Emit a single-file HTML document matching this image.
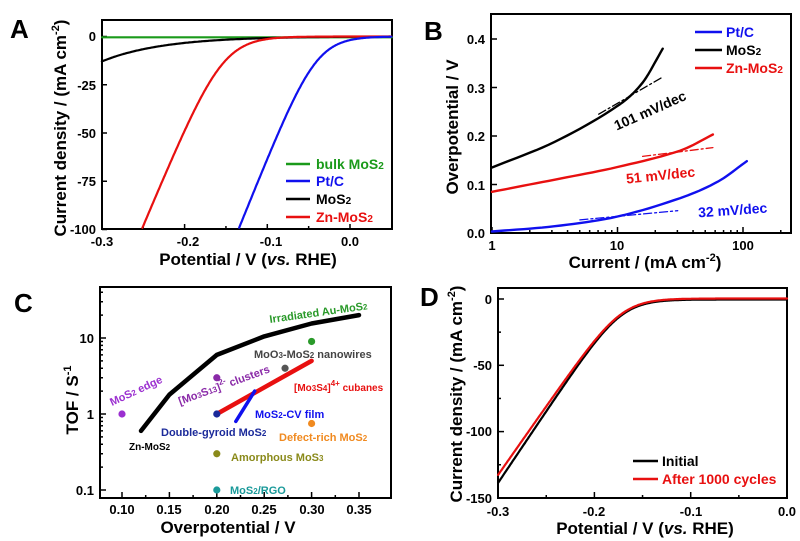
<!DOCTYPE html>
<html><head><meta charset="utf-8">
<style>
html,body{margin:0;padding:0;background:#fff;}
svg{display:block;font-family:"Liberation Sans",Arial,sans-serif;font-weight:bold;}
</style></head>
<body>
<svg id="s" width="800" height="541" viewBox="0 0 800 541" xmlns="http://www.w3.org/2000/svg">
<rect width="800" height="541" fill="#fff"/>
<text x="10" y="38" font-size="26" fill="#000">A</text>
<text x="424" y="40" font-size="26" fill="#000">B</text>
<text x="14" y="312" font-size="26" fill="#000">C</text>
<text x="420" y="306" font-size="26" fill="#000">D</text>

<g id="A">
<rect x="102" y="20" width="290" height="209" fill="none" stroke="#000" stroke-width="2"/>
<g font-size="13" fill="#000" text-anchor="end">
<text x="96" y="41">0</text><text x="96" y="90">-25</text><text x="96" y="138">-50</text><text x="96" y="186">-75</text><text x="96" y="234">-100</text>
</g>
<g font-size="13" fill="#000" text-anchor="middle">
<text x="102" y="246">-0.3</text><text x="188" y="246">-0.2</text><text x="271" y="246">-0.1</text><text x="350" y="246">0.0</text>
</g>
<text x="248" y="265" font-size="17" text-anchor="middle">Potential / V (<tspan font-style="italic">vs.</tspan> RHE)</text>
<text transform="translate(66,128) rotate(-90)" font-size="17" text-anchor="middle">Current density / (mA cm<tspan font-size="11" dy="-7">-2</tspan><tspan dy="7">)</tspan></text>
<g font-size="14">
<line x1="286" y1="164" x2="310" y2="164" stroke="#1a9a1a" stroke-width="2.5"/><text x="316" y="169" fill="#1a9a1a">bulk MoS<tspan font-size="10">2</tspan></text>
<line x1="286" y1="181" x2="310" y2="181" stroke="#1010ee" stroke-width="2.5"/><text x="316" y="186" fill="#1010ee">Pt/C</text>
<line x1="286" y1="199" x2="310" y2="199" stroke="#000" stroke-width="2.5"/><text x="316" y="204" fill="#000">MoS<tspan font-size="10">2</tspan></text>
<line x1="286" y1="217" x2="310" y2="217" stroke="#e81010" stroke-width="2.5"/><text x="316" y="222" fill="#e81010">Zn-MoS<tspan font-size="10">2</tspan></text>
</g>
</g>

<g id="B">
<rect x="491" y="14" width="300" height="219" fill="none" stroke="#000" stroke-width="2"/>
<g font-size="13" text-anchor="end">
<text x="485" y="238">0.0</text><text x="485" y="190">0.1</text><text x="485" y="141">0.2</text><text x="485" y="93">0.3</text><text x="485" y="44">0.4</text>
</g>
<g font-size="13" text-anchor="middle">
<text x="492" y="250">1</text><text x="617" y="250">10</text><text x="743" y="250">100</text>
</g>
<text x="645" y="268" font-size="17" text-anchor="middle">Current / (mA cm<tspan font-size="11" dy="-7">-2</tspan><tspan dy="7">)</tspan></text>
<text transform="translate(458,127) rotate(-90)" font-size="17" text-anchor="middle">Overpotential / V</text>
<g font-size="14">
<line x1="695" y1="32" x2="722" y2="32" stroke="#1010ee" stroke-width="2.5"/><text x="726" y="37" fill="#1010ee">Pt/C</text>
<line x1="695" y1="50" x2="722" y2="50" stroke="#000" stroke-width="2.5"/><text x="726" y="55" fill="#000">MoS<tspan font-size="10">2</tspan></text>
<line x1="695" y1="68" x2="722" y2="68" stroke="#e81010" stroke-width="2.5"/><text x="726" y="73" fill="#e81010">Zn-MoS<tspan font-size="10">2</tspan></text>
</g>
<text transform="translate(652,115) rotate(-24)" font-size="14" text-anchor="middle">101 mV/dec</text>
<text transform="translate(661,180) rotate(-6)" font-size="14" text-anchor="middle" fill="#e81010">51 mV/dec</text>
<text transform="translate(733,215) rotate(-4)" font-size="14" text-anchor="middle" fill="#1010ee">32 mV/dec</text>
</g>

<g id="C">
<rect x="100" y="287" width="291" height="211" fill="none" stroke="#000" stroke-width="2"/>
<g font-size="13" text-anchor="end">
<text x="94" y="343">10</text><text x="94" y="419">1</text><text x="94" y="495">0.1</text>
</g>
<g font-size="13" text-anchor="middle">
<text x="122" y="514">0.10</text><text x="169" y="514">0.15</text><text x="217" y="514">0.20</text><text x="264" y="514">0.25</text><text x="312" y="514">0.30</text><text x="359" y="514">0.35</text>
</g>
<text x="228" y="533" font-size="17" text-anchor="middle">Overpotential / V</text>
<text transform="translate(78,400) rotate(-90)" font-size="17" text-anchor="middle">TOF / S<tspan font-size="11" dy="-7">-1</tspan></text>
</g>

<g id="D">
<rect x="498" y="288" width="289" height="210" fill="none" stroke="#000" stroke-width="2"/>
<g font-size="13" text-anchor="end">
<text x="492" y="304">0</text><text x="492" y="370">-50</text><text x="492" y="436">-100</text><text x="492" y="503">-150</text>
</g>
<g font-size="13" text-anchor="middle">
<text x="498" y="516">-0.3</text><text x="594" y="516">-0.2</text><text x="691" y="516">-0.1</text><text x="787" y="516">0.0</text>
</g>
<text x="645" y="534" font-size="17" text-anchor="middle">Potential / V (<tspan font-style="italic">vs.</tspan> RHE)</text>
<text transform="translate(462,394) rotate(-90)" font-size="17" text-anchor="middle">Current density / (mA cm<tspan font-size="11" dy="-7">-2</tspan><tspan dy="7">)</tspan></text>
<g font-size="14">
<line x1="633" y1="461" x2="658" y2="461" stroke="#000" stroke-width="2.5"/><text x="662" y="466">Initial</text>
<line x1="633" y1="479" x2="658" y2="479" stroke="#e81010" stroke-width="2.5"/><text x="662" y="484" fill="#e81010">After 1000 cycles</text>
</g>
</g>
<g id="dyn"></g>
</svg>
<script>
(function(){
var NS="http://www.w3.org/2000/svg",g=document.getElementById("dyn");
function el(t,a){var e=document.createElementNS(NS,t);for(var k in a)e.setAttribute(k,a[k]);g.appendChild(e);return e;}
function path(pts,c,w,extra){var d="M"+pts.map(function(p){return p[0].toFixed(1)+","+p[1].toFixed(1)}).join("L");var a={d:d,fill:"none",stroke:c,"stroke-width":w,"stroke-linejoin":"round","stroke-linecap":"round"};for(var k in extra)a[k]=extra[k];return el("path",a);}
function sp(x){return x>30?x:Math.log(1+Math.exp(x));}
function tick(x1,y1,x2,y2){el("line",{x1:x1,y1:y1,x2:x2,y2:y2,stroke:"#000","stroke-width":1.5});}
var ax=function(v){return 350+v*827;},ay=function(j){return 36.5-j*1.93;};
[-0.3,-0.2,-0.1,0].forEach(function(v){tick(ax(v),229,ax(v),224);});
[-0.25,-0.15,-0.05].forEach(function(v){tick(ax(v),229,ax(v),226);});
[0,-25,-50,-75,-100].forEach(function(j){tick(102,ay(j),107,ay(j));});
function lsv(xf,yf,k,V0,w,vmin,vmax,ymin){var p=[];for(var v=vmin;v<=vmax+1e-9;v+=0.001){var j=-k*w*sp((V0-v)/w);if(j<ymin)continue;p.push([xf(v),yf(j)]);}return p;}
path([[102,ay(-0.4)],[392,ay(-0.4)]],"#1a9a1a",2.2);
var pb=[];for(var v=-0.3;v<=0.05;v+=0.002){pb.push([ax(v),ay(-13*Math.exp(-(v+0.3)/0.075)+0.1)]);}
path(pb,"#000",2.2);
path(lsv(ax,ay,1020,-0.154,0.02,-0.3,0.05,-100),"#e81010",2.2);
path(lsv(ax,ay,1064,-0.041,0.018,-0.3,0.05,-100),"#1010ee",2.2);
var bx=function(l){return 492+l*125.5;},by=function(y){return 233-y*485;};
[0,1,2].forEach(function(l){tick(bx(l),233,bx(l),227);});
[0,1].forEach(function(d){for(var i=2;i<=9;i++){tick(bx(d+Math.log10(i)),233,bx(d+Math.log10(i)),230);}});
tick(bx(2.301),233,bx(2.301),230);
[0,0.1,0.2,0.3,0.4].forEach(function(y){tick(491,by(y),497,by(y));});
function interp(P){var out=[];for(var i=0;i<P.length-1;i++){for(var t=0;t<1;t+=0.1){var a=P[i],b=P[i+1];
var m0=i>0?(P[i+1][1]-P[i-1][1])/(P[i+1][0]-P[i-1][0]):(b[1]-a[1])/(b[0]-a[0]);
var m1=i<P.length-2?(P[i+2][1]-P[i][1])/(P[i+2][0]-P[i][0]):(b[1]-a[1])/(b[0]-a[0]);
var h=b[0]-a[0],t2=t*t,t3=t2*t;var y=(2*t3-3*t2+1)*a[1]+(t3-2*t2+t)*h*m0+(-2*t3+3*t2)*b[1]+(t3-t2)*h*m1;out.push([a[0]+h*t,y]);}}out.push(P[P.length-1]);return out;}
function bp(P,c){path(interp(P).map(function(p){return[bx(p[0]),by(p[1])];}),c,2.4);}
bp([[0,0.135],[0.5,0.188],[1,0.262],[1.2,0.31],[1.36,0.38]],"#000");
bp([[0,0.085],[0.5,0.11],[1,0.136],[1.5,0.17],[1.76,0.203]],"#e81010");
bp([[0,0.003],[0.5,0.014],[1,0.034],[1.5,0.072],[1.8,0.106],[2.03,0.148]],"#1010ee");
var dd={"stroke-dasharray":"8,3,2,3"};
path([[bx(0.85),by(0.245)],[bx(1.35),by(0.32)]],"#000",1.3,dd);
path([[bx(1.2),by(0.158)],[bx(1.76),by(0.176)]],"#e81010",1.3,dd);
path([[bx(0.7),by(0.027)],[bx(1.48),by(0.046)]],"#1010ee",1.3,dd);
var cx=function(v){return 122+(v-0.1)*948;},cy=function(t){return 414-Math.log10(t)*76;};
[0.1,0.15,0.2,0.25,0.3,0.35].forEach(function(v){tick(cx(v),498,cx(v),492);});
[0.125,0.175,0.225,0.275,0.325].forEach(function(v){tick(cx(v),498,cx(v),495);});
[0.1,1,10].forEach(function(t){tick(100,cy(t),106,cy(t));for(var i=2;i<=9;i++){var y=cy(t*i);if(y>287)tick(100,y,103,y);}});
path([[0.12,0.6],[0.15,1.8],[0.2,6],[0.25,10.5],[0.3,15.5],[0.35,20]].map(function(p){return[cx(p[0]),cy(p[1])];}),"#000",4.5);
path([[cx(0.2),cy(1)],[cx(0.3),cy(5)]],"#e81010",4.5);
path([[cx(0.22),cy(0.8)],[cx(0.24),cy(2)]],"#1010ee",3.5);
var dots=[[0.1,1,"#9b2fd0"],[0.2,3,"#8a2aa8"],[0.2,1,"#1b2a9a"],[0.272,4,"#555"],[0.3,9,"#2a9a2a"],[0.3,0.75,"#f08a20"],[0.2,0.3,"#8a8a1a"],[0.2,0.1,"#1a9a9a"]];
dots.forEach(function(d){el("circle",{cx:cx(d[0]),cy:cy(d[1]),r:3.6,fill:d[2]});});
function tx(x,y,s,c,rot,fs){var t=el("text",{x:0,y:0,fill:c,"font-size":fs||11,transform:"translate("+x+","+y+")"+(rot?" rotate("+rot+")":"")});t.innerHTML=s;}
tx(270,323,"Irradiated Au-MoS<tspan font-size='8'>2</tspan>","#2a9a2a",-8);
tx(254,358,"MoO<tspan font-size='8'>3</tspan>-MoS<tspan font-size='8'>2</tspan> nanowires","#444",0);
tx(294,391,"[Mo<tspan font-size='8'>3</tspan>S<tspan font-size='8'>4</tspan>]<tspan font-size='8' dy='-5'>4+</tspan><tspan dy='5'> cubanes</tspan>","#e81010",0,10);
tx(112,406,"MoS<tspan font-size='8'>2</tspan> edge","#9b2fd0",-25);
tx(180,405,"[Mo<tspan font-size='8'>3</tspan>S<tspan font-size='8'>13</tspan>]<tspan font-size='8' dy='-5'>2-</tspan><tspan dy='5'> clusters</tspan>","#8a2aa8",-20);
tx(255,418,"MoS<tspan font-size='8'>2</tspan>-CV film","#1010ee",0);
tx(161,436,"Double-gyroid MoS<tspan font-size='8'>2</tspan>","#1b2a9a",0);
tx(279,441,"Defect-rich MoS<tspan font-size='8'>2</tspan>","#f08a20",0);
tx(129,450,"Zn-MoS<tspan font-size='8'>2</tspan>","#000",0,10);
tx(231,461,"Amorphous MoS<tspan font-size='8'>3</tspan>","#8a8a1a",0);
tx(230,494,"MoS<tspan font-size='8'>2</tspan>/RGO","#1a9a9a",0);
var dx=function(v){return 787+v*963;},dy=function(j){return 299-j*1.326;};
[-0.3,-0.2,-0.1,0].forEach(function(v){tick(dx(v),498,dx(v),492);});
[-0.25,-0.15,-0.05].forEach(function(v){tick(dx(v),498,dx(v),495);});
[0,-50,-100,-150].forEach(function(j){tick(498,dy(j),504,dy(j));});
[-25,-75,-125].forEach(function(j){tick(498,dy(j),501,dy(j));});
path(lsv(dx,dy,1080,-0.172,0.016,-0.3,0,-150).map(function(p){return[p[0],p[1]+0.5];}),"#000",2.2);
path(lsv(dx,dy,1035,-0.1715,0.016,-0.3,0,-150).map(function(p){return[p[0],p[1]-0.5];}),"#e81010",2.2);
})();
</script>
</body></html>
